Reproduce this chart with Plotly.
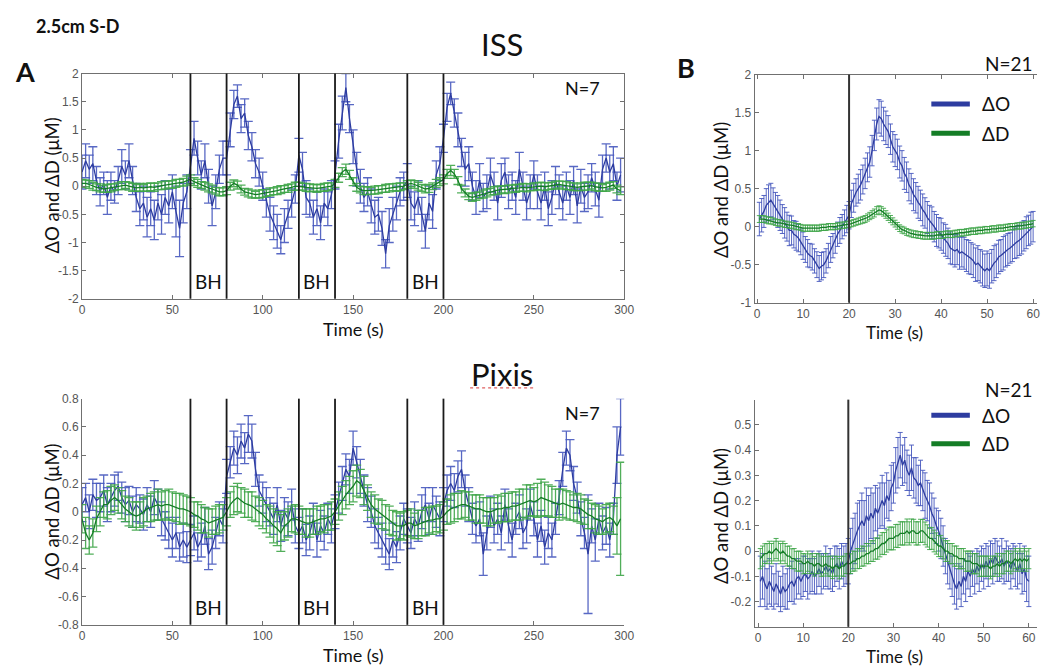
import plotly.graph_objects as go

W, H = 1047, 671

# ---------------- DATA ----------------
# Panel A (ISS / Pixis): 0-298 s every 2 s
time_A = list(range(0, 300, 2))
# Panel B (block average): 0.5-60 s every 0.5 s
time_B = [0.5 * k for k in range(1, 121)]

bh_lines = [60, 80, 120, 140, 180, 200]
bh_centers = [70, 130, 190]
stim_B = 20

iss_dO = [
    0.25, 0.45, 0.30, 0.40, 0.10, -0.10, 0.05, -0.20, 0.00, -0.10,
    0.10, 0.35, 0.20, 0.45, 0.10, -0.20, -0.40, -0.30, -0.55, -0.40,
    -0.60, -0.30, -0.50, -0.20, -0.35, -0.10, -0.45, -0.75, -0.30, -0.10,
    0.35, 0.85, 0.50, 0.20, 0.45, 0.00, -0.35, -0.10, 0.30, 0.50,
    0.50, 1.00, 1.45, 1.60, 1.20, 1.30, 0.90, 0.70, 0.40, 0.25,
    0.00, -0.30, -0.50, -0.65, -0.80, -0.95, -0.70, -0.50, -0.30, -0.05,
    0.55, 0.30, -0.20, -0.30, -0.55, -0.40, -0.65, -0.30, -0.40, -0.15,
    0.20, 0.80, 1.30, 1.75, 1.20, 0.70, 0.30, 0.00, -0.20, -0.10,
    -0.35, -0.55, -0.50, -0.75, -1.20, -0.70, -0.50, -0.30, -0.10, 0.00,
    0.10, -0.30, -0.40, -0.20, -0.50, -0.80, -0.30, -0.45, 0.20, 0.40,
    0.85, 1.40, 1.65, 1.30, 1.00, 0.60, 0.30, 0.40, 0.00, -0.20,
    0.10, -0.20, -0.10, 0.20, 0.00, -0.30, 0.10, 0.25, -0.10, 0.00,
    -0.20, 0.30, 0.00, -0.30, -0.10, 0.20, -0.10, -0.30, 0.00, -0.40,
    -0.20, 0.10, -0.10, -0.30, 0.00, -0.20, 0.10, -0.35, 0.00, -0.20,
    -0.10, 0.15, -0.05, -0.25, 0.30, 0.50, 0.25, 0.40, 0.00, 0.20,
]
iss_dO_err = [
    0.30, 0.30, 0.25, 0.30, 0.25, 0.25, 0.20, 0.30, 0.25, 0.20,
    0.25, 0.30, 0.25, 0.30, 0.25, 0.25, 0.30, 0.30, 0.35, 0.30,
    0.35, 0.30, 0.35, 0.30, 0.30, 0.30, 0.45, 0.50, 0.35, 0.30,
    0.30, 0.30, 0.30, 0.25, 0.30, 0.30, 0.35, 0.30, 0.25, 0.30,
    0.30, 0.30, 0.25, 0.20, 0.25, 0.25, 0.25, 0.25, 0.25, 0.25,
    0.25, 0.25, 0.30, 0.30, 0.30, 0.25, 0.30, 0.25, 0.25, 0.25,
    0.30, 0.30, 0.30, 0.25, 0.30, 0.30, 0.30, 0.25, 0.30, 0.25,
    0.25, 0.30, 0.30, 0.25, 0.25, 0.30, 0.30, 0.30, 0.25, 0.25,
    0.30, 0.30, 0.30, 0.30, 0.25, 0.30, 0.30, 0.30, 0.25, 0.25,
    0.30, 0.30, 0.30, 0.30, 0.30, 0.30, 0.30, 0.30, 0.25, 0.30,
    0.25, 0.25, 0.20, 0.25, 0.30, 0.25, 0.30, 0.30, 0.25, 0.30,
    0.30, 0.25, 0.30, 0.30, 0.25, 0.30, 0.30, 0.25, 0.30, 0.25,
    0.30, 0.30, 0.25, 0.30, 0.30, 0.25, 0.30, 0.30, 0.25, 0.30,
    0.30, 0.25, 0.30, 0.30, 0.25, 0.30, 0.25, 0.30, 0.30, 0.25,
    0.30, 0.25, 0.30, 0.30, 0.25, 0.25, 0.30, 0.30, 0.25, 0.30,
]
iss_dD = [
    0.05, 0.05, 0.03, 0.00, -0.02, -0.03, -0.05, -0.04, -0.03, -0.02,
    0.00, 0.01, 0.02, 0.00, -0.02, -0.03, -0.02, -0.03, -0.02, -0.01,
    -0.02, 0.00, 0.01, 0.02, 0.03, 0.03, 0.05, 0.06, 0.07, 0.10,
    0.12, 0.08, 0.05, 0.02, 0.00, -0.03, -0.05, -0.08, -0.10, -0.10,
    -0.08, 0.00, 0.05, 0.02, -0.05, -0.10, -0.12, -0.14, -0.15, -0.14,
    -0.13, -0.12, -0.10, -0.09, -0.08, -0.06, -0.05, -0.04, -0.02, 0.00,
    0.00, -0.01, -0.02, -0.03, -0.03, -0.04, -0.03, -0.02, -0.01, 0.00,
    0.05, 0.15, 0.25, 0.30, 0.20, 0.08, -0.02, -0.06, -0.08, -0.08,
    -0.08, -0.07, -0.06, -0.05, -0.04, -0.03, -0.02, -0.02, -0.01, 0.00,
    0.03, 0.05, 0.03, 0.00, -0.03, -0.05, -0.04, 0.00, 0.05, 0.08,
    0.12, 0.22, 0.28, 0.22, 0.10, -0.05, -0.12, -0.18, -0.20, -0.18,
    -0.16, -0.14, -0.12, -0.10, -0.08, -0.07, -0.06, -0.06, -0.05, -0.04,
    -0.04, -0.03, -0.02, -0.03, -0.02, -0.01, 0.00, 0.00, -0.01, 0.00,
    0.01, 0.02, 0.03, 0.02, 0.01, 0.00, -0.01, -0.02, -0.01, 0.00,
    0.00, 0.01, -0.01, -0.02, -0.03, -0.02, 0.00, 0.02, -0.05, -0.08,
]
iss_dD_err = [
    0.07, 0.06, 0.07, 0.07, 0.06, 0.07, 0.06, 0.07, 0.07, 0.06,
    0.06, 0.07, 0.06, 0.07, 0.07, 0.06, 0.07, 0.06, 0.07, 0.07,
    0.07, 0.06, 0.07, 0.07, 0.06, 0.07, 0.07, 0.06, 0.07, 0.08,
    0.08, 0.07, 0.07, 0.06, 0.07, 0.07, 0.07, 0.06, 0.07, 0.07,
    0.07, 0.07, 0.06, 0.07, 0.07, 0.06, 0.07, 0.07, 0.06, 0.07,
    0.07, 0.06, 0.07, 0.06, 0.07, 0.07, 0.06, 0.07, 0.06, 0.07,
    0.07, 0.06, 0.07, 0.07, 0.06, 0.07, 0.06, 0.07, 0.07, 0.06,
    0.07, 0.08, 0.08, 0.09, 0.08, 0.07, 0.07, 0.06, 0.07, 0.07,
    0.06, 0.07, 0.07, 0.06, 0.07, 0.07, 0.06, 0.07, 0.07, 0.06,
    0.07, 0.06, 0.07, 0.07, 0.06, 0.07, 0.07, 0.06, 0.07, 0.07,
    0.08, 0.08, 0.09, 0.08, 0.07, 0.07, 0.07, 0.06, 0.07, 0.07,
    0.06, 0.07, 0.07, 0.06, 0.07, 0.07, 0.06, 0.07, 0.07, 0.06,
    0.07, 0.06, 0.07, 0.07, 0.06, 0.07, 0.06, 0.07, 0.07, 0.06,
    0.06, 0.07, 0.06, 0.07, 0.07, 0.06, 0.07, 0.06, 0.07, 0.07,
    0.07, 0.06, 0.07, 0.07, 0.06, 0.07, 0.07, 0.06, 0.07, 0.07,
]

pixis_dO = [
    0.05, 0.10, 0.00, 0.12, 0.08, 0.10, 0.15, 0.05, 0.10, 0.15,
    0.18, 0.10, 0.05, 0.08, 0.00, 0.05, 0.02, -0.02, 0.05, 0.00,
    0.10, 0.05, -0.05, -0.10, -0.15, -0.20, -0.15, -0.25, -0.20, -0.25,
    -0.20, -0.15, -0.25, -0.20, -0.10, -0.30, -0.25, -0.15, -0.05, -0.10,
    0.25, 0.35, 0.45, 0.40, 0.50, 0.45, 0.55, 0.50, 0.30, 0.15,
    0.10, 0.05, 0.00, -0.05, 0.05, -0.10, 0.00, -0.05, 0.05, -0.10,
    -0.15, -0.10, -0.20, -0.15, -0.05, -0.20, -0.10, -0.15, -0.05, -0.10,
    0.00, 0.10, 0.20, 0.30, 0.25, 0.45, 0.35, 0.25, 0.15, 0.05,
    0.00, -0.10, -0.15, -0.20, -0.25, -0.30, -0.20, -0.25, -0.15, -0.05,
    -0.10, -0.15, -0.05, -0.10, 0.00, 0.05, -0.05, 0.05, 0.00, -0.05,
    0.05, 0.15, 0.20, 0.15, 0.25, 0.30, 0.15, 0.05, -0.05, -0.10,
    -0.05, -0.30, -0.15, 0.00, -0.10, -0.05, -0.15, 0.05, -0.10, -0.20,
    -0.05, 0.00, -0.15, -0.10, 0.05, -0.05, -0.20, -0.10, -0.25, -0.15,
    -0.20, -0.05, 0.10, 0.30, 0.45, 0.40, 0.20, 0.10, -0.05, -0.15,
    -0.30, -0.10, -0.20, -0.05, -0.15, -0.10, -0.20, -0.05, 0.40, 0.60,
]
pixis_dO_err = [
    0.12, 0.10, 0.12, 0.11, 0.12, 0.10, 0.11, 0.12, 0.10, 0.11,
    0.10, 0.11, 0.12, 0.10, 0.11, 0.12, 0.10, 0.11, 0.12, 0.11,
    0.12, 0.11, 0.12, 0.10, 0.11, 0.12, 0.11, 0.10, 0.12, 0.11,
    0.11, 0.12, 0.10, 0.12, 0.13, 0.11, 0.12, 0.11, 0.12, 0.12,
    0.12, 0.11, 0.12, 0.13, 0.12, 0.11, 0.13, 0.12, 0.12, 0.11,
    0.11, 0.12, 0.10, 0.11, 0.12, 0.11, 0.10, 0.12, 0.11, 0.12,
    0.11, 0.12, 0.11, 0.12, 0.11, 0.12, 0.11, 0.12, 0.11, 0.12,
    0.12, 0.11, 0.12, 0.11, 0.12, 0.12, 0.11, 0.12, 0.11, 0.12,
    0.11, 0.12, 0.11, 0.12, 0.12, 0.11, 0.12, 0.11, 0.12, 0.11,
    0.12, 0.11, 0.12, 0.11, 0.12, 0.12, 0.11, 0.12, 0.11, 0.12,
    0.12, 0.11, 0.12, 0.12, 0.11, 0.13, 0.11, 0.12, 0.11, 0.12,
    0.12, 0.15, 0.12, 0.11, 0.12, 0.11, 0.12, 0.11, 0.12, 0.12,
    0.11, 0.12, 0.11, 0.12, 0.11, 0.12, 0.12, 0.11, 0.12, 0.11,
    0.12, 0.11, 0.12, 0.12, 0.12, 0.11, 0.12, 0.11, 0.12, 0.11,
    0.42, 0.12, 0.15, 0.11, 0.12, 0.13, 0.12, 0.11, 0.20, 0.20,
]
pixis_dD = [
    -0.05, -0.15, -0.20, -0.15, -0.05, 0.00, 0.05, 0.05, 0.08, 0.10,
    0.08, 0.05, 0.02, 0.00, -0.02, -0.03, -0.02, 0.00, 0.02, 0.03,
    0.04, 0.05, 0.04, 0.05, 0.05, 0.04, 0.03, 0.02, 0.02, 0.01,
    0.00, -0.02, -0.03, -0.05, -0.06, -0.08, -0.07, -0.06, -0.05, -0.04,
    0.00, 0.05, 0.08, 0.10, 0.08, 0.06, 0.05, 0.04, 0.02, 0.00,
    -0.02, -0.05, -0.07, -0.10, -0.12, -0.15, -0.10, -0.08, -0.05, -0.05,
    -0.06, -0.07, -0.08, -0.08, -0.07, -0.06, -0.05, -0.05, -0.04, -0.03,
    0.00, 0.04, 0.08, 0.12, 0.15, 0.18, 0.22, 0.20, 0.15, 0.10,
    0.05, 0.02, 0.00, -0.02, -0.04, -0.06, -0.08, -0.10, -0.10, -0.10,
    -0.08, -0.08, -0.10, -0.09, -0.08, -0.07, -0.06, -0.06, -0.05, -0.05,
    -0.03, 0.00, 0.02, 0.03, 0.04, 0.05, 0.05, 0.04, 0.03, 0.02,
    0.02, 0.01, 0.00, 0.00, 0.01, 0.02, 0.02, 0.03, 0.03, 0.04,
    0.04, 0.05, 0.06, 0.07, 0.08, 0.07, 0.08, 0.10, 0.09, 0.08,
    0.07, 0.06, 0.05, 0.06, 0.05, 0.04, 0.03, 0.03, 0.02, 0.00,
    -0.02, -0.03, -0.05, -0.06, -0.07, -0.05, -0.04, -0.06, -0.10, -0.05,
]
pixis_dD_err = [
    0.10, 0.11, 0.10, 0.10, 0.09, 0.10, 0.09, 0.10, 0.10, 0.09,
    0.09, 0.10, 0.09, 0.10, 0.09, 0.10, 0.09, 0.10, 0.09, 0.10,
    0.10, 0.11, 0.10, 0.10, 0.11, 0.10, 0.10, 0.11, 0.10, 0.10,
    0.10, 0.09, 0.10, 0.10, 0.09, 0.10, 0.09, 0.10, 0.10, 0.09,
    0.10, 0.09, 0.10, 0.10, 0.09, 0.10, 0.09, 0.10, 0.09, 0.10,
    0.10, 0.10, 0.11, 0.12, 0.12, 0.13, 0.10, 0.10, 0.09, 0.10,
    0.10, 0.09, 0.10, 0.10, 0.09, 0.10, 0.09, 0.10, 0.09, 0.10,
    0.09, 0.10, 0.10, 0.10, 0.10, 0.11, 0.11, 0.10, 0.10, 0.09,
    0.09, 0.10, 0.09, 0.10, 0.09, 0.10, 0.09, 0.10, 0.09, 0.10,
    0.09, 0.10, 0.09, 0.10, 0.09, 0.10, 0.09, 0.10, 0.09, 0.10,
    0.10, 0.09, 0.10, 0.10, 0.09, 0.10, 0.09, 0.10, 0.09, 0.10,
    0.10, 0.09, 0.10, 0.10, 0.09, 0.10, 0.09, 0.10, 0.10, 0.10,
    0.10, 0.11, 0.10, 0.12, 0.11, 0.10, 0.12, 0.13, 0.12, 0.11,
    0.11, 0.10, 0.11, 0.10, 0.10, 0.10, 0.09, 0.10, 0.10, 0.09,
    0.10, 0.09, 0.10, 0.10, 0.09, 0.10, 0.10, 0.10, 0.20, 0.40,
]

blk_iss_dO = [
    0.10, 0.15, 0.20, 0.28, 0.32, 0.35, 0.30, 0.25, 0.20, 0.15,
    0.10, 0.05, 0.00, -0.05, -0.05, -0.10, -0.12, -0.15, -0.20, -0.25,
    -0.30, -0.35, -0.38, -0.40, -0.45, -0.50, -0.55, -0.52, -0.50, -0.45,
    -0.38, -0.30, -0.25, -0.18, -0.10, -0.05, 0.00, 0.05, 0.10, 0.15,
    0.30, 0.38, 0.45, 0.50, 0.55, 0.62, 0.70, 0.78, 0.85, 1.00,
    1.20, 1.35, 1.45, 1.42, 1.35, 1.30, 1.25, 1.15, 1.05, 1.00,
    0.95, 0.85, 0.80, 0.70, 0.65, 0.55, 0.50, 0.42, 0.38, 0.32,
    0.28, 0.22, 0.18, 0.12, 0.08, 0.05, 0.00, -0.05, -0.08, -0.10,
    -0.15, -0.18, -0.22, -0.28, -0.30, -0.32, -0.30, -0.35, -0.33, -0.35,
    -0.38, -0.40, -0.42, -0.45, -0.50, -0.48, -0.52, -0.55, -0.58, -0.55,
    -0.58, -0.52, -0.48, -0.45, -0.40, -0.38, -0.35, -0.32, -0.30, -0.28,
    -0.25, -0.22, -0.20, -0.18, -0.15, -0.12, -0.08, -0.05, -0.02, 0.00,
]
blk_iss_dO_err = [
    0.22, 0.22, 0.21, 0.22, 0.23, 0.22, 0.21, 0.20, 0.21, 0.20,
    0.19, 0.20, 0.19, 0.20, 0.19, 0.18, 0.19, 0.18, 0.17, 0.18,
    0.17, 0.18, 0.16, 0.17, 0.16, 0.17, 0.17, 0.18, 0.17, 0.16,
    0.16, 0.17, 0.16, 0.17, 0.16, 0.17, 0.16, 0.17, 0.18, 0.18,
    0.18, 0.19, 0.18, 0.19, 0.20, 0.19, 0.20, 0.19, 0.20, 0.20,
    0.20, 0.21, 0.22, 0.23, 0.22, 0.22, 0.21, 0.20, 0.20, 0.21,
    0.20, 0.21, 0.20, 0.21, 0.20, 0.21, 0.20, 0.21, 0.20, 0.21,
    0.20, 0.21, 0.20, 0.21, 0.20, 0.21, 0.20, 0.21, 0.20, 0.21,
    0.20, 0.21, 0.20, 0.21, 0.20, 0.21, 0.20, 0.21, 0.20, 0.21,
    0.21, 0.22, 0.21, 0.22, 0.22, 0.23, 0.22, 0.23, 0.22, 0.23,
    0.23, 0.22, 0.23, 0.22, 0.22, 0.21, 0.22, 0.21, 0.21, 0.20,
    0.21, 0.20, 0.21, 0.20, 0.21, 0.20, 0.21, 0.20, 0.21, 0.20,
]
blk_iss_dD = [
    0.10, 0.10, 0.10, 0.09, 0.08, 0.08, 0.07, 0.06, 0.05, 0.05,
    0.04, 0.03, 0.03, 0.02, 0.02, 0.01, 0.00, 0.00, -0.01, -0.02,
    -0.02, -0.02, -0.02, -0.02, -0.02, -0.02, -0.02, -0.01, -0.01, -0.01,
    0.00, 0.00, 0.00, 0.00, 0.01, 0.01, 0.02, 0.02, 0.03, 0.03,
    0.04, 0.05, 0.06, 0.07, 0.08, 0.09, 0.10, 0.12, 0.14, 0.16,
    0.18, 0.21, 0.22, 0.21, 0.19, 0.16, 0.13, 0.10, 0.07, 0.04,
    0.01, -0.02, -0.04, -0.05, -0.07, -0.08, -0.09, -0.10, -0.10, -0.11,
    -0.11, -0.12, -0.12, -0.12, -0.12, -0.12, -0.12, -0.11, -0.11, -0.11,
    -0.11, -0.10, -0.10, -0.10, -0.10, -0.09, -0.09, -0.08, -0.08, -0.08,
    -0.07, -0.07, -0.06, -0.06, -0.06, -0.05, -0.05, -0.05, -0.04, -0.04,
    -0.04, -0.03, -0.03, -0.03, -0.02, -0.02, -0.02, -0.01, -0.01, 0.00,
    0.00, 0.00, 0.01, 0.01, 0.01, 0.02, 0.02, 0.03, 0.03, 0.04,
]
blk_iss_dD_err = [
    0.045, 0.045, 0.044, 0.045, 0.044, 0.043, 0.044, 0.043, 0.042, 0.043,
    0.042, 0.041, 0.042, 0.041, 0.040, 0.041, 0.040, 0.041, 0.040, 0.041,
    0.040, 0.041, 0.040, 0.041, 0.040, 0.041, 0.040, 0.041, 0.040, 0.041,
    0.041, 0.040, 0.041, 0.040, 0.041, 0.040, 0.041, 0.042, 0.041, 0.042,
    0.042, 0.043, 0.042, 0.043, 0.044, 0.045, 0.046, 0.047, 0.048, 0.050,
    0.052, 0.053, 0.054, 0.053, 0.052, 0.050, 0.048, 0.047, 0.046, 0.045,
    0.045, 0.044, 0.045, 0.044, 0.045, 0.044, 0.045, 0.044, 0.045, 0.044,
    0.045, 0.044, 0.045, 0.044, 0.045, 0.044, 0.045, 0.044, 0.045, 0.044,
    0.044, 0.043, 0.044, 0.043, 0.044, 0.043, 0.044, 0.043, 0.044, 0.043,
    0.043, 0.042, 0.043, 0.042, 0.043, 0.042, 0.043, 0.042, 0.043, 0.042,
    0.042, 0.041, 0.042, 0.041, 0.042, 0.041, 0.042, 0.041, 0.042, 0.041,
    0.041, 0.042, 0.041, 0.042, 0.041, 0.042, 0.041, 0.042, 0.041, 0.042,
]

blk_pix_dO = [
    -0.12, -0.10, -0.13, -0.15, -0.12, -0.14, -0.16, -0.13, -0.15, -0.17,
    -0.14, -0.16, -0.15, -0.13, -0.12, -0.14, -0.11, -0.10, -0.12, -0.10,
    -0.09, -0.11, -0.10, -0.08, -0.10, -0.09, -0.07, -0.09, -0.08, -0.06,
    -0.08, -0.07, -0.09, -0.06, -0.05, -0.07, -0.04, -0.06, -0.05, -0.04,
    0.00, 0.03, 0.05, 0.08, 0.10, 0.12, 0.10, 0.14, 0.12, 0.15,
    0.13, 0.17, 0.15, 0.18, 0.20, 0.18, 0.22, 0.20, 0.25, 0.27,
    0.32, 0.35, 0.38, 0.34, 0.36, 0.32, 0.30, 0.33, 0.29, 0.28,
    0.26, 0.27, 0.24, 0.22, 0.20, 0.18, 0.15, 0.13, 0.10, 0.08,
    0.05, 0.02, -0.02, -0.05, -0.08, -0.10, -0.13, -0.15, -0.12, -0.14,
    -0.10, -0.12, -0.08, -0.10, -0.07, -0.09, -0.06, -0.08, -0.05, -0.07,
    -0.04, -0.06, -0.03, -0.05, -0.02, -0.04, -0.05, -0.03, -0.06, -0.04,
    -0.05, -0.07, -0.04, -0.06, -0.08, -0.05, -0.09, -0.07, -0.11, -0.12,
]
blk_pix_dO_err = [
    0.10, 0.09, 0.09, 0.08, 0.09, 0.08, 0.07, 0.08, 0.07, 0.07,
    0.08, 0.07, 0.08, 0.07, 0.08, 0.07, 0.08, 0.07, 0.07, 0.08,
    0.07, 0.08, 0.07, 0.08, 0.07, 0.08, 0.07, 0.08, 0.07, 0.08,
    0.07, 0.08, 0.07, 0.08, 0.07, 0.08, 0.07, 0.08, 0.08, 0.09,
    0.09, 0.10, 0.10, 0.11, 0.10, 0.11, 0.10, 0.11, 0.10, 0.10,
    0.10, 0.09, 0.10, 0.09, 0.10, 0.09, 0.09, 0.08, 0.09, 0.08,
    0.09, 0.10, 0.09, 0.08, 0.09, 0.08, 0.08, 0.09, 0.08, 0.09,
    0.08, 0.09, 0.08, 0.09, 0.08, 0.09, 0.08, 0.08, 0.07, 0.08,
    0.08, 0.08, 0.07, 0.08, 0.07, 0.08, 0.08, 0.08, 0.07, 0.08,
    0.07, 0.08, 0.07, 0.08, 0.07, 0.08, 0.07, 0.08, 0.07, 0.08,
    0.07, 0.08, 0.07, 0.08, 0.07, 0.08, 0.07, 0.08, 0.07, 0.08,
    0.07, 0.08, 0.07, 0.08, 0.07, 0.08, 0.08, 0.09, 0.09, 0.10,
]
blk_pix_dD = [
    -0.03, -0.02, -0.01, -0.01, 0.00, -0.01, 0.00, 0.01, 0.00, -0.01,
    0.00, -0.01, -0.02, -0.02, -0.03, -0.03, -0.04, -0.04, -0.04, -0.05,
    -0.05, -0.04, -0.05, -0.05, -0.06, -0.05, -0.05, -0.06, -0.06, -0.05,
    -0.06, -0.06, -0.07, -0.06, -0.06, -0.07, -0.06, -0.06, -0.05, -0.05,
    -0.05, -0.04, -0.04, -0.03, -0.03, -0.02, -0.02, -0.01, -0.01, 0.00,
    0.00, 0.01, 0.01, 0.02, 0.03, 0.03, 0.04, 0.05, 0.05, 0.05,
    0.06, 0.06, 0.07, 0.07, 0.07, 0.08, 0.07, 0.08, 0.08, 0.07,
    0.07, 0.08, 0.08, 0.07, 0.06, 0.05, 0.05, 0.04, 0.03, 0.02,
    0.02, 0.01, 0.00, 0.00, -0.01, -0.01, -0.02, -0.02, -0.03, -0.03,
    -0.03, -0.04, -0.04, -0.04, -0.05, -0.05, -0.05, -0.06, -0.06, -0.06,
    -0.06, -0.06, -0.07, -0.06, -0.06, -0.05, -0.06, -0.05, -0.05, -0.04,
    -0.04, -0.05, -0.04, -0.03, -0.04, -0.03, -0.04, -0.03, -0.04, -0.03,
]
blk_pix_dD_err = [
    0.040, 0.040, 0.039, 0.040, 0.039, 0.040, 0.039, 0.040, 0.039, 0.040,
    0.039, 0.040, 0.039, 0.040, 0.039, 0.040, 0.039, 0.040, 0.039, 0.040,
    0.039, 0.040, 0.039, 0.040, 0.039, 0.040, 0.039, 0.040, 0.039, 0.040,
    0.039, 0.040, 0.039, 0.040, 0.039, 0.040, 0.039, 0.040, 0.039, 0.040,
    0.039, 0.040, 0.039, 0.040, 0.039, 0.040, 0.039, 0.040, 0.040, 0.041,
    0.041, 0.042, 0.042, 0.043, 0.043, 0.044, 0.044, 0.045, 0.045, 0.045,
    0.045, 0.046, 0.046, 0.046, 0.046, 0.047, 0.046, 0.047, 0.046, 0.046,
    0.046, 0.046, 0.045, 0.045, 0.044, 0.044, 0.043, 0.043, 0.042, 0.042,
    0.042, 0.041, 0.041, 0.041, 0.040, 0.040, 0.040, 0.040, 0.040, 0.040,
    0.040, 0.040, 0.040, 0.040, 0.040, 0.040, 0.040, 0.040, 0.040, 0.040,
    0.040, 0.040, 0.040, 0.040, 0.040, 0.040, 0.040, 0.040, 0.040, 0.040,
    0.040, 0.040, 0.040, 0.040, 0.040, 0.040, 0.040, 0.040, 0.040, 0.040,
]

# tick values / labels
A1_yticks = [-2, -1.5, -1, -0.5, 0, 0.5, 1, 1.5, 2]
A1_ylabels = ["-2", "-1.5", "-1", "-0.5", "0", "0.5", "1", "1.5", "2"]
A2_yticks = [-0.8, -0.6, -0.4, -0.2, 0, 0.2, 0.4, 0.6, 0.8]
A2_ylabels = ["-0.8", "-0.6", "-0.4", "-0.2", "0", "0.2", "0.4", "0.6", "0.8"]
A_xticks = [0, 50, 100, 150, 200, 250, 300]
A_xlabels = ["0", "50", "100", "150", "200", "250", "300"]
B1_yticks = [-1, -0.5, 0, 0.5, 1, 1.5, 2]
B1_ylabels = ["-1", "-0.5", "0", "0.5", "1", "1.5", "2"]
B2_yticks = [-0.2, -0.1, 0, 0.1, 0.2, 0.3, 0.4, 0.5]
B2_ylabels = ["-0.2", "-0.1", "0", "0.1", "0.2", "0.3", "0.4", "0.5"]
B_xticks = [0, 10, 20, 30, 40, 50, 60]
B_xlabels = ["0", "10", "20", "30", "40", "50", "60"]

# ---------------- STYLE ----------------
BLUE = "rgb(45,60,160)"
BLUE_ERR = "rgba(70,88,190,0.9)"
GREEN = "rgb(20,125,38)"
GREEN_ERR = "rgba(62,165,72,0.9)"
TXT = "Lato"
TICKF = dict(family="Liberation Sans", size=12, color="#555555")


def fx(p):
    return p / W


def fy(p):
    return 1 - p / H


for name, a, b in [("iss", iss_dO, iss_dO_err), ("issD", iss_dD, iss_dD_err),
                   ("pix", pixis_dO, pixis_dO_err), ("pixD", pixis_dD, pixis_dD_err),
                   ("bi", blk_iss_dO, blk_iss_dO_err), ("biD", blk_iss_dD, blk_iss_dD_err),
                   ("bp", blk_pix_dO, blk_pix_dO_err), ("bpD", blk_pix_dD, blk_pix_dD_err)]:
    if len(a) != len(b):
        print("length mismatch", name, len(a), len(b))

fig = go.Figure()


def add_pair(t, o, oe, d, de, xa, ya, cap, th):
    fig.add_trace(go.Scatter(
        x=t, y=o, mode="lines", line=dict(color=BLUE, width=1.3),
        error_y=dict(type="data", array=oe, visible=True, color=BLUE_ERR,
                     thickness=th, width=cap),
        xaxis=xa, yaxis=ya, showlegend=False, hoverinfo="skip"))
    fig.add_trace(go.Scatter(
        x=t, y=d, mode="lines", line=dict(color=GREEN, width=1.3),
        error_y=dict(type="data", array=de, visible=True, color=GREEN_ERR,
                     thickness=th, width=cap),
        xaxis=xa, yaxis=ya, showlegend=False, hoverinfo="skip"))


add_pair(time_A, iss_dO, iss_dO_err, iss_dD, iss_dD_err, "x", "y", 4.5, 1.3)
add_pair(time_A, pixis_dO, pixis_dO_err, pixis_dD, pixis_dD_err, "x2", "y2", 4.5, 1.3)
add_pair(time_B, blk_iss_dO, blk_iss_dO_err, blk_iss_dD, blk_iss_dD_err, "x3", "y3", 2.5, 1)
add_pair(time_B, blk_pix_dO, blk_pix_dO_err, blk_pix_dD, blk_pix_dD_err, "x4", "y4", 2.5, 1)

AX_COMMON = dict(showgrid=False, zeroline=False, showline=True, linecolor="#707070",
                 linewidth=1, ticks="inside", ticklen=4, tickcolor="#707070",
                 tickfont=TICKF, tickmode="array")

A_dom_x = [fx(80), fx(629)]
B_dom_x = [fx(761), 1.0]

fig.update_layout(
    width=W, height=H, autosize=False,
    margin=dict(l=0, r=0, t=0, b=0),
    paper_bgcolor="white", plot_bgcolor="white",
    xaxis=dict(AX_COMMON, domain=A_dom_x, range=[0, 300], anchor="y",
               tickvals=A_xticks, ticktext=A_xlabels, mirror="ticks"),
    yaxis=dict(AX_COMMON, domain=[fy(298), fy(68)], range=[-2, 2], anchor="x",
               tickvals=A1_yticks, ticktext=A1_ylabels, mirror="ticks"),
    xaxis2=dict(AX_COMMON, domain=A_dom_x, range=[0, 300], anchor="y2",
                tickvals=A_xticks, ticktext=A_xlabels),
    yaxis2=dict(AX_COMMON, domain=[fy(631), fy(400)], range=[-0.8, 0.8], anchor="x2",
                tickvals=A2_yticks, ticktext=A2_ylabels),
    xaxis3=dict(AX_COMMON, domain=B_dom_x, range=[-0.54, 60.84], anchor="y3",
                tickvals=B_xticks, ticktext=B_xlabels, mirror="ticks"),
    yaxis3=dict(AX_COMMON, domain=[fy(302), fy(69)], range=[-1, 2], anchor="x3",
                tickvals=B1_yticks, ticktext=B1_ylabels),
    xaxis4=dict(AX_COMMON, domain=B_dom_x, range=[-0.77, 61.8], anchor="y4",
                tickvals=B_xticks, ticktext=B_xlabels),
    yaxis4=dict(AX_COMMON, domain=[fy(633), fy(401)], range=[-0.3, 0.6], anchor="x4",
                tickvals=B2_yticks, ticktext=B2_ylabels),
)

shapes = []
for xr, yr in [("x", "y"), ("x2", "y2")]:
    for v in bh_lines:
        shapes.append(dict(type="line", xref=xr, yref=yr + " domain", x0=v, x1=v,
                           y0=0, y1=1, line=dict(color="#1a1a1a", width=1.8)))
for xr, yr in [("x3", "y3"), ("x4", "y4")]:
    shapes.append(dict(type="line", xref=xr, yref=yr + " domain", x0=stim_B, x1=stim_B,
                       y0=0, y1=1, line=dict(color="#333333", width=2)))
# legend samples (panel B)
for ly, col in [(99, BLUE), (129, GREEN), (417, BLUE), (446, GREEN)]:
    shapes.append(dict(type="line", xref="paper", yref="paper", x0=fx(940), x1=fx(979),
                       y0=fy(ly), y1=fy(ly), line=dict(color=col, width=5)))
# spell-check underline under "Pixis"
shapes.append(dict(type="line", xref="paper", yref="paper", x0=fx(473), x1=fx(538),
                   y0=fy(389), y1=fy(389), line=dict(color="#e06060", width=1.2, dash="dot")))
fig.update_layout(shapes=shapes)

ann = []


def text(x, y, s, size, bold=False, color="#111111", xanchor="center", angle=0, family=TXT):
    ann.append(dict(x=fx(x), y=fy(y), xref="paper", yref="paper", text=("<b>%s</b>" % s) if bold else s,
                    showarrow=False, xanchor=xanchor, yanchor="middle", textangle=angle,
                    borderpad=0, font=dict(family=family, size=size, color=color)))


text(32, 19, "2.5cm S-D", 18, bold=True, xanchor="left")
text(505, 38, "ISS", 31)
text(505, 375, "Pixis", 31)
text(22, 66, "A", 27, bold=True)
text(692, 62, "B", 27, bold=True)
text(587, 83, "N=7", 18)
text(587, 415, "N=7", 18)
text(1019, 58, "N=21", 19)
text(1019, 391, "N=21", 19)
for yb in (280, 613):
    for c in bh_centers:
        ann.append(dict(x=c, y=fy(yb), xref="x", yref="paper", text="BH", showarrow=False,
                        xanchor="center", yanchor="middle", borderpad=0,
                        font=dict(family=TXT, size=19, color="#111111")))
text(355, 329, "Time (s)", 18)
text(355, 662, "Time (s)", 18)
text(903, 332, "Time (s)", 17)
text(903, 663, "Time (s)", 17)
text(50, 182, "ΔO and ΔD (μM)", 18.5, angle=-90)
text(50, 515, "ΔO and ΔD (μM)", 18.5, angle=-90)
text(727, 187, "ΔO and ΔD (μM)", 18.5, angle=-90)
text(727, 520, "ΔO and ΔD (μM)", 18.5, angle=-90)
for ly, lab in [(99, "ΔO"), (129, "ΔD"), (417, "ΔO"), (446, "ΔD")]:
    text(990, ly, lab, 19, xanchor="left")
fig.update_layout(annotations=ann)

fig.write_html("out.html", config={"displayModeBar": False},
               post_script="document.body.style.margin='0';document.body.style.overflow='hidden';")
